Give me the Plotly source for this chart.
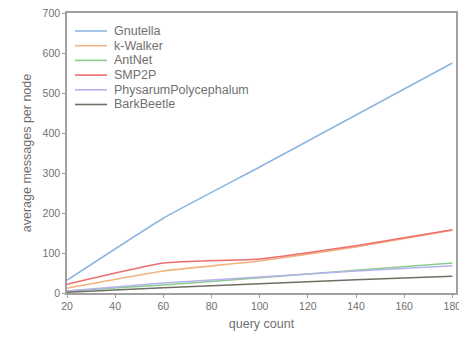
import plotly.graph_objects as go

query_count = [20, 60, 100, 140, 180]
gnutella = [32, 187, 315, 445, 575]
k_walker = [12, 55, 80, 115, 157]
antnet = [5, 20, 38, 57, 75]
smp2p = [22, 75, 85, 118, 158]
physarum = [5, 25, 40, 55, 68]
barkbeetle = [2, 13, 23, 33, 42]

names = ["Gnutella", "k-Walker", "AntNet", "SMP2P", "PhysarumPolycephalum", "BarkBeetle"]
values = [gnutella, k_walker, antnet, smp2p, physarum, barkbeetle]
colors = ["#8db6e2", "#f0b482", "#8ccc8c", "#ee6e6e", "#b4b2ee", "#6e6e62"]

W, H = 459, 337
L, R, T, B = 67, 3, 13, 44
pw, ph = W - L - R, H - T - B

def fx(px):
    return (px - L) / pw

def fy(py):
    return (H - B - py) / ph

fig = go.Figure()
for name, vals, col in zip(names, values, colors):
    fig.add_trace(go.Scatter(x=query_count, y=vals, mode="lines", name=name, showlegend=False,
                             line=dict(color=col, width=1.6, shape="spline", smoothing=0.4)))

# manual legend (compact spacing)
for i, (name, col) in enumerate(zip(names, colors)):
    py = 31 + 14.7 * i
    fig.add_shape(type="line", xref="x domain", yref="y domain",
                  x0=fx(75), x1=fx(107), y0=fy(py), y1=fy(py),
                  line=dict(color=col, width=1.6))
    fig.add_annotation(xref="x domain", yref="y domain", x=fx(112), y=fy(py),
                       text=name, showarrow=False, xanchor="left", yanchor="middle",
                       font=dict(family="Liberation Sans", size=12.5, color="#707070"))

axis_common = dict(showline=True, linecolor="#a0a0a0", linewidth=1.5, mirror=True,
                   ticks="outside", ticklen=3, tickcolor="#a0a0a0", showgrid=False,
                   zeroline=False, automargin=False, ticklabeloverflow="allow",
                   tickfont=dict(family="Liberation Sans", size=10.5, color="#707070"))

fig.update_layout(
    width=W, height=H,
    margin=dict(l=L, r=R, t=T, b=B),
    paper_bgcolor="white", plot_bgcolor="white",
    showlegend=False,
    xaxis=dict(range=[20, 181.5], tickvals=[20, 40, 60, 80, 100, 120, 140, 160, 180],
               title=dict(text="query count", font=dict(family="Liberation Sans", size=12.5, color="#707070"), standoff=8),
               **axis_common),
    yaxis=dict(range=[0, 700], tickvals=[0, 100, 200, 300, 400, 500, 600, 700],
               title=dict(text="average messages per node", font=dict(family="Liberation Sans", size=12.5, color="#707070"), standoff=8),
               **axis_common),
)

fig.write_html("out.html")
